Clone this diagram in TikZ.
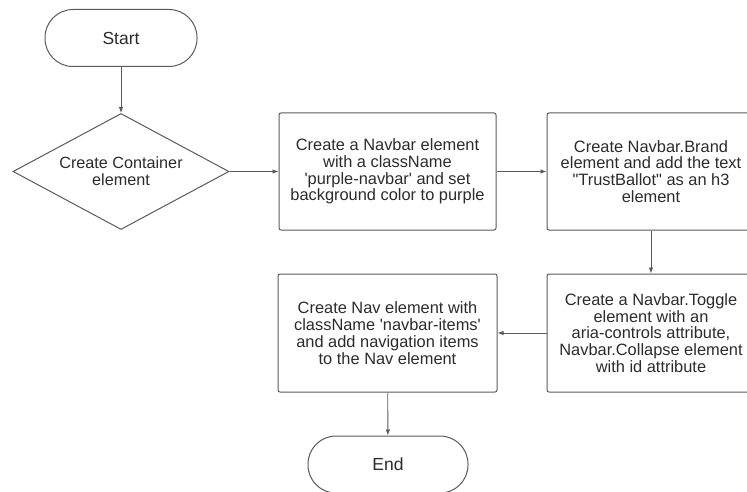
\documentclass[tikz,border=0pt]{standalone}
\usepackage{fontspec}
\setmainfont{Liberation Sans}
\usepackage{xcolor}
\usepackage{tikz}
\usetikzlibrary{arrows.meta,shapes.geometric}
\definecolor{linex}{HTML}{5A5A5A}
\definecolor{textx}{HTML}{2B2B2B}
\tikzset{
  ar/.style={-{Latex[length=6pt,width=4.5pt]},line width=0.9pt,linex},
  box/.style={draw=linex,line width=1pt,rounded corners=2pt,align=center,inner sep=2pt,
    text=textx,font=\fontsize{16.4}{16.8}\selectfont},
  term/.style={draw=linex,line width=1pt,rounded corners=28pt,minimum width=152pt,minimum height=57pt,
    text=textx,font=\fontsize{17.5}{20}\selectfont},
  dia/.style={draw=linex,line width=1pt,diamond,aspect=1.86,inner sep=0pt,minimum width=216pt,minimum height=116pt,
    align=center,text=textx,font=\fontsize{16.2}{17}\selectfont}
}
\newcommand{\sq}{\textquotesingle}
\newcommand{\dq}{\textquotedbl}
\begin{document}
\begin{tikzpicture}[x=1pt,y=1pt]
\useasboundingbox (0,0) rectangle (747,-492);
\clip (0,0) rectangle (747,-492);
% terminals and steps
\node[term] (start) at (121,-38) {Start};
\node[dia] (cont) at (121,-171.5) {Create Container\\element};
\node[box,minimum width=217pt,minimum height=117pt] (navbar) at (387.5,-171.5)
  {Create a Navbar element\\with a className\\\sq purple-navbar\sq{} and set\\background color to purple};
\node[box,minimum width=208pt,minimum height=117pt] (brand) at (651,-171.5)
  {Create Navbar.Brand\\element and add the text\\\dq TrustBallot\dq{} as an h3\\element};
\node[box,minimum width=208pt,minimum height=118pt] (toggle) at (651,-333)
  {Create a Navbar.Toggle\\element with an\\aria-controls attribute,\\Navbar.Collapse element\\with id attribute};
\node[box,minimum width=219pt,minimum height=118pt] (nav) at (387.5,-333)
  {Create Nav element with\\className \sq navbar-items\sq\\and add navigation items\\to the Nav element};
\node[term,minimum width=160pt] (fin) at (388,-464.5) {End};
% flow
\draw[ar] (start) -- (cont);
\draw[ar] (cont) -- (navbar);
\draw[ar] (navbar) -- (brand);
\draw[ar] (brand) -- (toggle);
\draw[ar] (toggle) -- (nav);
\draw[ar] (nav) -- (fin);
\end{tikzpicture}
\end{document}
